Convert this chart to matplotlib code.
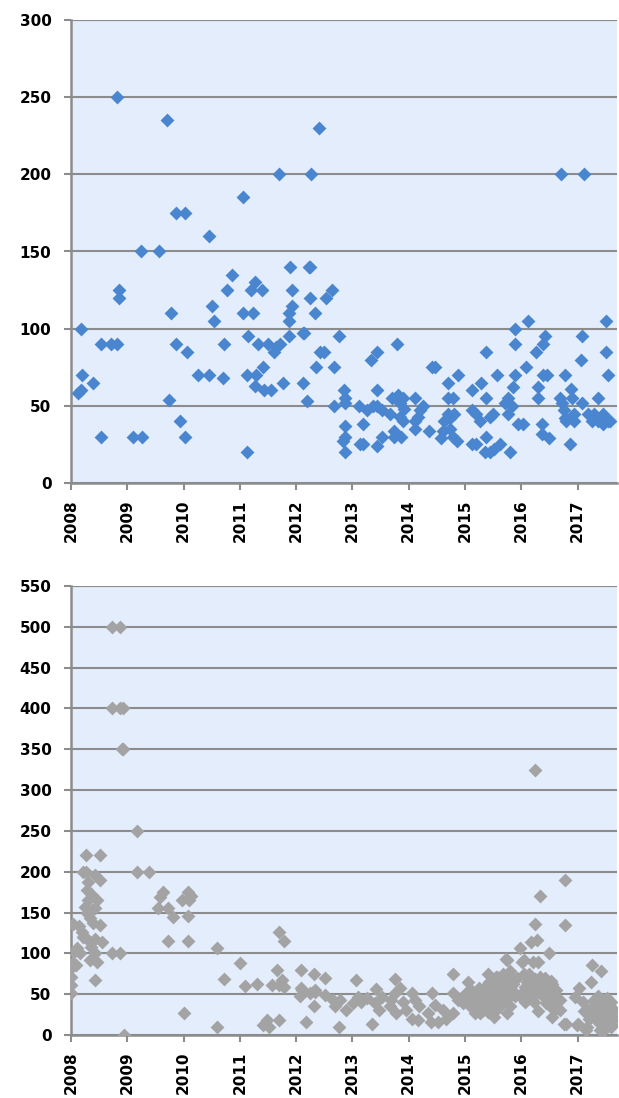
import matplotlib
matplotlib.use("Agg")
import matplotlib.pyplot as plt

plt.rcParams['font.family'] = ['DejaVu Sans']
plt.rcParams['font.weight'] = 'bold'

# top series: date (decimal year) and value
top_dates = [2008.12, 2008.18, 2008.18, 2008.19, 2008.39, 2008.53, 2008.53, 2008.71, 2008.81, 2008.82, 2008.85, 2008.86,
             2009.10, 2009.24, 2009.26, 2009.56, 2009.70, 2009.74, 2009.77, 2009.86, 2009.86, 2009.94,
             2010.02, 2010.02, 2010.06, 2010.26, 2010.45, 2010.46, 2010.50, 2010.54, 2010.70, 2010.72, 2010.78, 2010.86,
             2011.05, 2011.06, 2011.12, 2011.12, 2011.15, 2011.19, 2011.23, 2011.27, 2011.27, 2011.29, 2011.33, 2011.40,
             2011.41, 2011.43, 2011.50, 2011.55, 2011.61, 2011.64, 2011.70, 2011.71, 2011.77, 2011.87, 2011.87, 2011.88,
             2011.89, 2011.92, 2011.93,
             2012.12, 2012.14, 2012.13, 2012.20, 2012.22, 2012.24, 2012.25, 2012.27, 2012.33, 2012.35, 2012.41, 2012.42,
             2012.50, 2012.53, 2012.63, 2012.68, 2012.68, 2012.77, 2012.85, 2012.86, 2012.87, 2012.87, 2012.84, 2012.87,
             2012.87,
             2013.12, 2013.13, 2013.19, 2013.19, 2013.25, 2013.33, 2013.37, 2013.43, 2013.44, 2013.44, 2013.44, 2013.52,
             2013.52, 2013.67, 2013.71, 2013.73, 2013.73, 2013.80, 2013.81, 2013.84, 2013.84, 2013.87, 2013.90, 2013.90,
             2013.92,
             2014.11, 2014.11, 2014.11, 2014.17, 2014.20, 2014.26, 2014.36, 2014.41, 2014.47, 2014.58, 2014.60, 2014.62,
             2014.70, 2014.70, 2014.70, 2014.73, 2014.73, 2014.79, 2014.79, 2014.81, 2014.85, 2014.88,
             2015.12, 2015.12, 2015.12, 2015.19, 2015.20, 2015.26, 2015.29, 2015.35, 2015.38, 2015.38, 2015.38, 2015.44,
             2015.44, 2015.50, 2015.52, 2015.56, 2015.62, 2015.71, 2015.76, 2015.77, 2015.80, 2015.83, 2015.86, 2015.89,
             2015.89, 2015.89, 2015.95,
             2016.03, 2016.09, 2016.12, 2016.26, 2016.30, 2016.30, 2016.36, 2016.36, 2016.38, 2016.39, 2016.42, 2016.45,
             2016.50, 2016.69, 2016.70, 2016.72, 2016.75, 2016.77, 2016.78, 2016.79, 2016.86, 2016.89, 2016.90, 2016.93,
             2016.93,
             2017.06, 2017.08, 2017.08, 2017.12, 2017.19, 2017.25, 2017.30, 2017.37, 2017.37, 2017.45, 2017.46, 2017.50,
             2017.50, 2017.54, 2017.54, 2017.58]
top_values = [58, 60, 100, 70, 65, 90, 30, 90, 250, 90, 125, 120,
              30, 150, 30, 150, 235, 54, 110, 90, 175, 40,
              175, 30, 85, 70, 160, 70, 115, 105, 68, 90, 125, 135,
              185, 110, 70, 20, 95, 125, 110, 130, 63, 70, 90, 125,
              75, 60, 90, 60, 85, 88, 200, 90, 65, 105, 110, 95,
              140, 125, 115,
              97, 97, 65, 53, 140, 140, 120, 200, 110, 75, 230, 85,
              85, 120, 125, 75, 50, 95, 60, 55, 52, 37, 27, 30,
              20,
              50, 25, 25, 38, 47, 80, 50, 85, 60, 50, 24, 47,
              30, 45, 55, 34, 30, 90, 57, 52, 43, 30, 55, 40,
              48,
              55, 40, 35, 43, 47, 50, 34, 75, 75, 29, 34, 40,
              65, 55, 45, 42, 35, 55, 30, 45, 27, 70,
              60, 47, 25, 25, 45, 40, 65, 20, 85, 55, 30, 43,
              20, 45, 22, 70, 25, 52, 55, 45, 20, 50, 62, 70,
              90, 100, 38,
              38, 75, 105, 85, 62, 55, 38, 32, 70, 90, 95, 70,
              29, 55, 200, 52, 47, 70, 42, 40, 25, 61, 55, 45,
              40,
              80, 95, 52, 200, 45, 40, 45, 55, 40, 45, 38, 105,
              85, 70, 40, 40]

# bottom series: date (decimal year) and value
bottom_dates = [2008.00, 2008.00, 2008.00, 2008.00, 2008.03, 2008.05, 2008.03, 2008.09, 2008.10, 2008.16, 2008.15, 2008.19,
                2008.22, 2008.27, 2008.22, 2008.27, 2008.29, 2008.31, 2008.29, 2008.31, 2008.25, 2008.28, 2008.34, 2008.37,
                2008.35, 2008.43, 2008.52, 2008.39, 2008.43, 2008.46, 2008.52, 2008.52, 2008.55, 2008.43, 2008.43, 2008.34,
                2008.46, 2008.43, 2008.35, 2008.72, 2008.73, 2008.87, 2008.73, 2008.87, 2008.92, 2008.91, 2008.93, 2008.87,
                2008.94,
                2009.18, 2009.18, 2009.39, 2009.55, 2009.58, 2009.64, 2009.73, 2009.73, 2009.81, 2009.98,
                2010.00, 2010.07, 2010.09, 2010.14, 2010.07, 2010.07, 2010.59, 2010.60, 2010.71,
                2011.00, 2011.09, 2011.31, 2011.41, 2011.48, 2011.51, 2011.57, 2011.66, 2011.69, 2011.79, 2011.69, 2011.75,
                2011.69, 2011.78,
                2012.08, 2012.08, 2012.07, 2012.17, 2012.31, 2012.25, 2012.34, 2012.32, 2012.10, 2012.33, 2012.51, 2012.51,
                2012.66, 2012.69, 2012.78, 2012.76, 2012.89,
                2013.07, 2013.01, 2013.10, 2013.16, 2013.25, 2013.34, 2013.41, 2013.40, 2013.48, 2013.53, 2013.66, 2013.69,
                2013.75, 2013.75, 2013.78, 2013.84, 2013.90, 2013.96,
                2014.06, 2014.11, 2014.05, 2014.16, 2014.19, 2014.34, 2014.42, 2014.46, 2014.40, 2014.52, 2014.61, 2014.67,
                2014.78, 2014.78, 2014.78, 2014.87, 2014.96, 2014.97,
                2015.05, 2015.02, 2015.08, 2015.14, 2015.20, 2015.26, 2015.29, 2015.35, 2015.38, 2015.41, 2015.44, 2015.46,
                2015.52, 2015.55, 2015.61, 2015.64, 2015.73, 2015.73, 2015.79, 2015.70, 2015.09, 2015.18, 2015.27, 2015.36,
                2015.42, 2015.48, 2015.45, 2015.51, 2015.57, 2015.60, 2015.62, 2015.68, 2015.74, 2015.77, 2015.80, 2015.83,
                2015.80, 2015.74, 2015.98, 2015.10, 2015.15, 2015.22, 2015.24, 2015.31, 2015.33, 2015.40, 2015.43, 2015.47,
                2015.50, 2015.53, 2015.56, 2015.58, 2015.63, 2015.66, 2015.69, 2015.72, 2015.76, 2015.85, 2015.88, 2015.92,
                2016.04, 2016.07, 2016.04, 2016.13, 2016.16, 2016.24, 2016.27, 2016.30, 2016.33, 2016.34, 2016.34, 2016.40,
                2016.43, 2016.50, 2016.55, 2016.57, 2016.60, 2016.69, 2016.78, 2016.78, 2016.80, 2016.95, 2016.24, 2016.01,
                2016.01, 2016.04, 2016.07, 2016.13, 2016.18, 2016.15, 2016.21, 2016.24, 2016.27, 2016.30, 2016.36, 2016.45,
                2016.48, 2016.51, 2016.54, 2016.63, 2016.69, 2016.75, 2016.10, 2016.19, 2016.22, 2016.32, 2016.38, 2016.42,
                2016.47, 2016.52, 2016.58, 2016.62,
                2017.03, 2017.09, 2017.00, 2017.15, 2017.15, 2017.26, 2017.24, 2017.41, 2017.30, 2017.39, 2017.44, 2017.32,
                2017.47, 2017.56, 2017.59, 2017.59, 2017.39, 2017.27, 2016.99, 2017.11, 2017.17, 2017.35, 2017.41, 2017.53,
                2017.56, 2017.62, 2017.47, 2017.65, 2017.20, 2017.33, 2017.37, 2017.43, 2017.50, 2017.52, 2017.60, 2017.64,
                2017.28]
bottom_values = [51, 61, 71, 82, 88, 102, 136, 86, 106, 100, 133, 126,
                 120, 220, 200, 200, 118, 188, 178, 165, 157, 149, 143, 153,
                 173, 196, 220, 137, 155, 165, 190, 135, 114, 118, 100, 92,
                 90, 67, 108, 100, 500, 500, 400, 400, 400, 350, 350, 100,
                 0,
                 250, 200, 200, 155, 169, 175, 155, 115, 145, 165,
                 27, 175, 165, 170, 146, 115, 10, 107, 69,
                 88, 60, 63, 12, 18, 10, 61, 80, 126, 115, 61, 67,
                 18, 59,
                 80, 58, 48, 16, 75, 51, 55, 35, 55, 53, 70, 49,
                 43, 35, 43, 10, 31,
                 67, 39, 47, 41, 45, 13, 56, 39, 31, 47, 35, 43,
                 68, 51, 27, 57, 41, 31,
                 51, 43, 20, 18, 35, 27, 51, 37, 16, 16, 31, 20,
                 75, 51, 27, 43, 39, 45,
                 65, 51, 43, 33, 43, 27, 51, 59, 43, 75, 65, 35,
                 51, 71, 59, 43, 93, 67, 75, 51, 35, 27, 37, 49,
                 65, 55, 35, 22, 71, 43, 59, 75, 92, 67, 78, 55,
                 35, 27, 106, 55, 48, 36, 58, 30, 45, 28, 52, 62,
                 40, 30, 48, 60, 35, 66, 42, 58, 45, 62, 48, 70,
                 92, 59, 43, 75, 51, 136, 116, 90, 170, 71, 51, 59,
                 39, 100, 63, 51, 31, 43, 190, 135, 13, 47, 325, 90,
                 51, 75, 41, 59, 114, 45, 90, 69, 51, 29, 59, 63,
                 45, 35, 22, 41, 31, 14, 65, 56, 40, 62, 48, 70,
                 55, 66, 40, 55,
                 57, 41, 14, 31, 6, 86, 65, 78, 43, 35, 43, 18,
                 18, 35, 24, 10, 6, 27, 12, 29, 10, 31, 14, 39,
                 22, 12, 6, 31, 20, 25, 48, 28, 30, 45, 40, 20,
                 36]

years = list(range(2008, 2018))
bg = '#E3EDFC'
grid_col = '#8C8C8C'

fig = plt.figure(figsize=(6.19, 10.98), dpi=100)
ax1 = fig.add_axes([71 / 619, 1 - 483 / 1098, 546 / 619, 463 / 1098])
ax2 = fig.add_axes([71 / 619, 1 - 1035 / 1098, 546 / 619, 449 / 1098])

ax1.scatter(top_dates, top_values, marker='D', s=50, color='#4A86D0', linewidths=0, zorder=3)
ax2.scatter(bottom_dates, bottom_values, marker='D', s=50, color='#A3A3A3', linewidths=0, zorder=3)

for ax, ymax in ((ax1, 300), (ax2, 550)):
    ax.set_facecolor(bg)
    ax.set_xlim(2008, 2017.7)
    ax.set_ylim(0, ymax)
    ax.set_yticks(range(0, ymax + 1, 50))
    ax.set_xticks(years)
    ax.set_xticklabels([str(y) for y in years], rotation=90, fontweight='bold')
    ax.set_yticklabels([str(v) for v in range(0, ymax + 1, 50)], fontweight='bold')
    ax.yaxis.grid(True, color=grid_col, linewidth=1.5)
    ax.set_axisbelow(True)
    for side in ('top', 'right'):
        ax.spines[side].set_visible(False)
    for side in ('left', 'bottom'):
        ax.spines[side].set_color(grid_col)
        ax.spines[side].set_linewidth(1.8)
    ax.tick_params(axis='both', colors=grid_col, width=1.5, length=5, labelcolor='black', labelsize=11)
    ax.tick_params(axis='y', pad=9)
    ax.tick_params(axis='x', pad=7)
    ax.axhline(ymax, color=grid_col, linewidth=1.5, zorder=1)

fig.savefig('out.png', dpi=100)
